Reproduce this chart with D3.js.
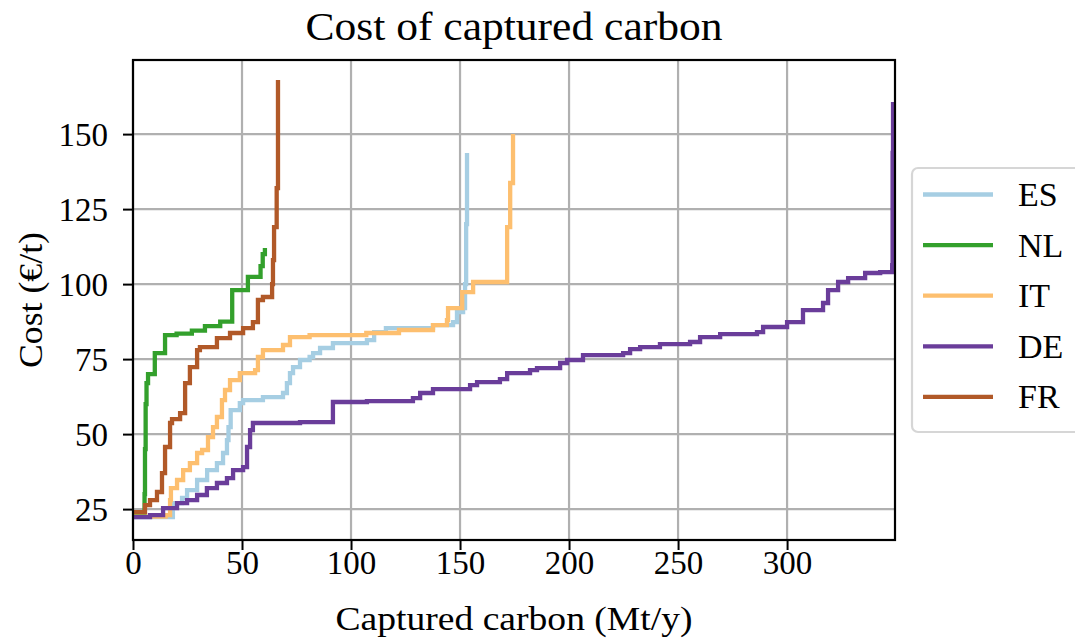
<!DOCTYPE html>
<html>
<head>
<meta charset="utf-8">
<script src="https://cdn.jsdelivr.net/npm/d3@7"></script>
<style>
  html, body { margin: 0; padding: 0; background: #fff; }
  svg { display: block; font-family: "Liberation Serif", "DejaVu Serif", serif; }
</style>
</head>
<body>
<svg id="chart" width="1075" height="644"></svg>
<script>
// Marginal abatement curves: cumulative captured carbon (Mt/y) vs cost (€/t)
const countries = ["ES", "NL", "IT", "DE", "FR"];
const colors = ["#a6cee3", "#33a02c", "#fdbf6f", "#6a3d9a", "#b15928"];

const xTicks = [0, 50, 100, 150, 200, 250, 300];
const yTicks = [25, 50, 75, 100, 125, 150];

// Step breakpoints per country: [captured, cost]
const esSteps = [[0,22.3],[18.3,27],[22.5,28.7],[24.8,31.3],[29.4,34.7],[34,38],[38.5,40.3],[41.3,43.7],[43.1,48],[43.8,52.3],[44.8,58],[49,60.3],[50.5,61.3],[59.6,62.3],[68.8,63.7],[70.6,67],[72,70.3],[73.4,72.3],[76.6,74.7],[81,75.7],[82.6,77],[85.8,78.7],[91.7,80.3],[107.3,81.3],[110.6,84],[116,85.3],[137.6,86.3],[146.8,87.3],[148.6,90.7],[151.4,92],[152.3,100],[152.8,120],[153.2,143.7]];
const nlSteps = [[0,23.3],[5.3,30],[5.5,45],[5.8,60],[6.2,67],[6.9,70],[10,77],[14.7,83],[20,83.5],[27,84.5],[33,86],[40,87.5],[45.5,98],[52.7,102.4],[58.5,106],[59.5,110],[60.5,112]];
const itSteps = [[0,22.5],[15,23],[17,28],[17.4,32],[20.2,34.7],[23,38],[26.1,40.3],[29.4,43.7],[31.7,44.7],[34.4,49],[36.7,52.3],[38.5,55.7],[40.8,61.3],[42.2,64.7],[44.5,68],[49,70.3],[56,71.3],[57.3,75.7],[59.6,78],[68.8,79.7],[72,82.3],[81,83],[107,83.7],[122,84.7],[137.6,86.3],[144,88],[144.5,92],[151,97.3],[156,100.7],[171.6,119],[173,133.7],[174.3,150]];
const deSteps = [[0,22.3],[7.8,23],[13.8,25.3],[20.2,27],[24.8,28],[29.4,29.7],[33.9,32],[38.5,33.7],[43.1,35.3],[45.9,38],[50.5,39],[52.3,45.7],[53.7,51.3],[55,53.7],[76.6,54],[91.7,60.7],[107.3,61],[128.4,62],[131.7,63.7],[137.6,65],[154.6,66.3],[157.8,67.3],[168.3,68.3],[171.6,70.3],[182.1,71.3],[185.3,72],[195.9,73.7],[199.1,74.7],[206.4,76.3],[224.8,77],[228,78.3],[232.6,79],[241.7,80],[255.5,80.7],[260.1,82.3],[269.3,83.3],[286.2,84],[289,85.7],[300,87.3],[307.3,91.3],[316.5,93.7],[318.8,98],[323.4,100.7],[328,102],[335.8,103.7],[342.7,104],[348.2,106.3],[348.4,143.7],[348.6,160.7]];
const frSteps = [[0,24],[5.5,26.3],[7.8,28],[11,30.7],[13.3,37],[14.7,45.7],[17,53.7],[17.9,55],[21.6,57],[23.9,67],[26.1,72.3],[29.4,78],[30.7,79],[38.5,82],[44.5,83.7],[50.5,85.3],[55,87.3],[57.3,94.7],[59.6,95.7],[63.8,100],[64.2,108],[64.7,119],[65.9,132],[66.5,168]];

const seriesData = [esSteps, nlSteps, itSteps, deSteps, frSteps];

const svg = d3.select("#chart");
const W = 1075, H = 644;
const margin = { left: 133, right: 180, top: 60, bottom: 104 };
const x0 = margin.left, x1 = W - margin.right, y0 = margin.top, y1 = H - margin.bottom;

const x = d3.scaleLinear().domain([0, 349.5]).range([x0, x1]);
const y = d3.scaleLinear().domain([14.7, 174.7]).range([y1, y0]);

// grid
const grid = svg.append("g");
grid.selectAll("line.gx").data(xTicks).join("line")
  .attr("x1", d => x(d)).attr("x2", d => x(d)).attr("y1", y0).attr("y2", y1)
  .attr("stroke", "#b0b0b0").attr("stroke-width", 2.2);
grid.selectAll("line.gy").data(yTicks).join("line")
  .attr("x1", x0).attr("x2", x1).attr("y1", d => y(d)).attr("y2", d => y(d))
  .attr("stroke", "#b0b0b0").attr("stroke-width", 2.2);

// stepped cost curves
const line = d3.line().x(d => x(d[0])).y(d => y(d[1])).curve(d3.curveStepAfter);
const plot = svg.append("g");
seriesData.forEach((s, i) => {
  plot.append("path").datum(s)
    .attr("d", line)
    .attr("fill", "none")
    .attr("stroke", colors[i])
    .attr("stroke-width", 4.3)
    .attr("stroke-linejoin", "miter");
});

// axes
const fontTick = 33;
const xAxis = svg.append("g").attr("transform", `translate(0,${y1})`)
  .call(d3.axisBottom(x).tickValues(xTicks).tickSize(10).tickPadding(12).tickFormat(d3.format("d")));
const yAxis = svg.append("g").attr("transform", `translate(${x0},0)`)
  .call(d3.axisLeft(y).tickValues(yTicks).tickSize(10).tickPadding(15).tickFormat(d3.format("d")));
[xAxis, yAxis].forEach(a => {
  a.select(".domain").remove();
  a.selectAll(".tick line").attr("stroke", "#000").attr("stroke-width", 2);
  a.selectAll(".tick text").attr("font-size", fontTick).attr("fill", "#000")
    .attr("font-family", "Liberation Serif, serif");
});
xAxis.selectAll(".tick text").attr("dy", null).attr("y", 34);
yAxis.selectAll(".tick text").attr("dy", "0.34em");

// frame
svg.append("rect").attr("x", x0).attr("y", y0).attr("width", x1 - x0).attr("height", y1 - y0)
  .attr("fill", "none").attr("stroke", "#000").attr("stroke-width", 2.2);

// title and axis labels
const cx = (x0 + x1) / 2;
svg.append("text").attr("x", cx).attr("y", 40).attr("text-anchor", "middle")
  .attr("font-size", 41).attr("textLength", 417).attr("lengthAdjust", "spacingAndGlyphs")
  .text("Cost of captured carbon");
svg.append("text").attr("x", cx).attr("y", 630).attr("text-anchor", "middle")
  .attr("font-size", 34).attr("textLength", 357).attr("lengthAdjust", "spacingAndGlyphs")
  .text("Captured carbon (Mt/y)");
svg.append("text").attr("transform", `translate(42,${(y0 + y1) / 2}) rotate(-90)`)
  .attr("text-anchor", "middle").attr("font-size", 34)
  .attr("textLength", 136).attr("lengthAdjust", "spacingAndGlyphs")
  .text("Cost (€/t)");

// legend
const lg = svg.append("g").attr("transform", "translate(912,168)");
lg.append("rect").attr("x", 0).attr("y", 0).attr("width", 190).attr("height", 264)
  .attr("rx", 6).attr("fill", "#fff").attr("stroke", "#d6d6d6").attr("stroke-width", 2.2);
countries.forEach((c, i) => {
  const yy = 26.5 + i * 50.6;
  lg.append("line").attr("x1", 11).attr("x2", 81).attr("y1", yy).attr("y2", yy)
    .attr("stroke", colors[i]).attr("stroke-width", 4.3);
  lg.append("text").attr("x", 106).attr("y", yy).attr("dy", "0.34em")
    .attr("font-size", 34).text(c);
});
</script>
</body>
</html>
